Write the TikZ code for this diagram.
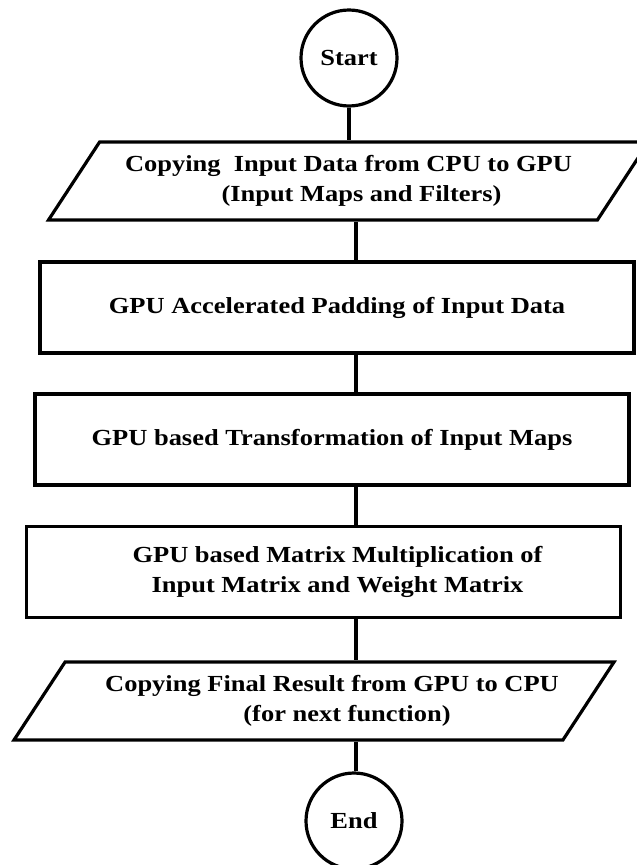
\documentclass[tikz,border=0pt]{standalone}
\usepackage{fontspec}
\setmainfont{Liberation Serif}[FakeStretch=1.15]
\usetikzlibrary{shapes, positioning}
\tikzset{
  terminal/.style={circle, draw=black, line width=3.2pt, minimum size=96pt, text centered, inner sep=0},
  process/.style={rectangle, draw=black, line width=3.2pt, minimum width=594pt, minimum height=91pt, align=center, inner sep=0},
  io/.style={trapezium, trapezium left angle=45, trapezium right angle=135, trapezium stretches body, draw=black, line width=3.2pt, minimum width=600pt, minimum height=78pt, align=center, inner sep=0},
  link/.style={draw=black, line width=3.2pt}
}

\begin{document}
\begin{tikzpicture}[x=1pt, y=-1pt, font=\bfseries\fontsize{23}{30}\selectfont]
      \useasboundingbox (0,0) rectangle (637,865);
      \coordinate (spine) at (356,0);
      \node[terminal](m0) at (349,58){Start};
      \node[io](m1) at (348.5,181){Copying~ Input Data from CPU to GPU\\\hspace*{26pt}(Input Maps and Filters)};
      \node[process](m2) at (337,307.5){GPU Accelerated Padding of Input Data};
      \node[process](m3) at (332,439.5){GPU based Transformation of Input Maps};
      \node[process](m4) at (323.5,572){\hspace*{28pt}GPU based Matrix Multiplication of\\\hspace*{28pt}Input Matrix and Weight Matrix};
      \node[io](m5) at (314,701){\hspace*{36pt}Copying Final Result from GPU to CPU\\\hspace*{66pt}(for next function)};
      \node[terminal](m6) at (354,821){End};

      \draw[link](m0.south)--(m0.south |- m1.north);
      \draw[link](m1.south -| spine)--(m2.north -| spine);
      \draw[link](m2.south -| spine)--(m3.north -| spine);
      \draw[link](m3.south -| spine)--(m4.north -| spine);
      \draw[link](m4.south -| spine)--(m5.north -| spine);
      \draw[link](m5.south -| spine)--(m6.north -| spine);
    \end{tikzpicture}
\end{document}
